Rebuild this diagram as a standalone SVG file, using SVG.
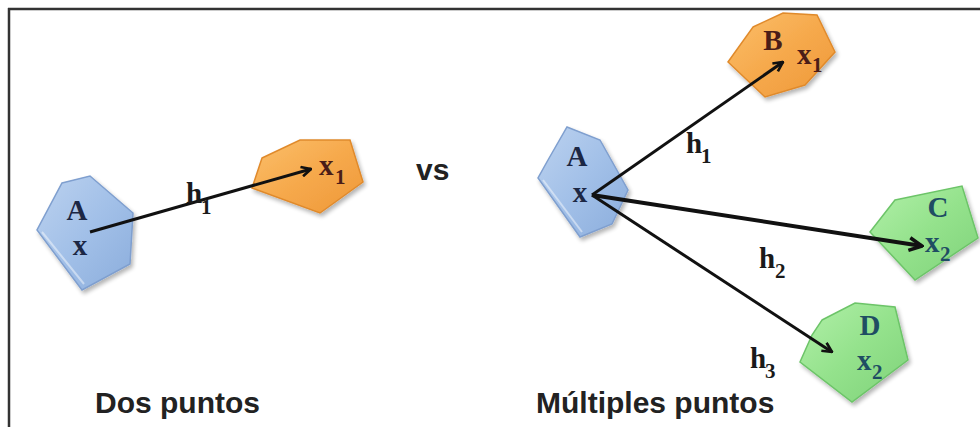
<svg xmlns="http://www.w3.org/2000/svg" width="980" height="427" viewBox="0 0 980 427">
<defs>
<linearGradient id="gBlue" x1="0" y1="0" x2="1" y2="1">
<stop offset="0" stop-color="#bcd2ef"/><stop offset="0.5" stop-color="#a2c0e8"/><stop offset="1" stop-color="#8badDC"/>
</linearGradient>
<linearGradient id="gOrange" x1="0" y1="0" x2="1" y2="1">
<stop offset="0" stop-color="#fbbf6a"/><stop offset="0.5" stop-color="#f6a94c"/><stop offset="1" stop-color="#ee9838"/>
</linearGradient>
<linearGradient id="gGreen" x1="0" y1="0" x2="1" y2="1">
<stop offset="0" stop-color="#b2f0a9"/><stop offset="0.5" stop-color="#94e28c"/><stop offset="1" stop-color="#7fd27a"/>
</linearGradient>
<filter id="sh" x="-20%" y="-20%" width="140%" height="140%">
<feGaussianBlur in="SourceAlpha" stdDeviation="2"/>
<feOffset dx="2" dy="3" result="b"/>
<feComponentTransfer><feFuncA type="linear" slope="0.3"/></feComponentTransfer>
<feMerge><feMergeNode/><feMergeNode in="SourceGraphic"/></feMerge>
</filter>
<marker id="ah" viewBox="0 0 10 10" refX="9" refY="5" markerWidth="4" markerHeight="4" orient="auto" markerUnits="strokeWidth">
<path d="M1,1 L9,5 L1,9" fill="none" stroke="#111" stroke-width="2.2" stroke-linejoin="miter"/>
</marker>
</defs>
<style>
.blue{fill:url(#gBlue);stroke:#7f9fcf;stroke-width:1.5;filter:url(#sh)}
.orange{fill:url(#gOrange);stroke:#e08a2c;stroke-width:1.5;filter:url(#sh)}
.green{fill:url(#gGreen);stroke:#6cc468;stroke-width:1.5;filter:url(#sh)}
.inner{fill:none;stroke:#ffffff;stroke-opacity:0.45;stroke-width:2}
.lbl{font-family:"Liberation Serif","DejaVu Serif",serif;font-weight:bold;font-size:29px}
.sub{font-family:"Liberation Serif","DejaVu Serif",serif;font-weight:bold;font-size:21px}
.navy{fill:#1c2744}
.brown{fill:#4a1d18}
.teal{fill:#1f4d63}
.dark{fill:#1a1a1a}
.cap{font-family:"Liberation Sans",Arial,sans-serif;font-weight:bold;font-size:30px;fill:#222}
.arr{stroke:#111;stroke-width:3;fill:none;marker-end:url(#ah)}
</style>
<rect width="980" height="427" fill="#ffffff"/>
<g id="frame" stroke="#333" stroke-width="2.5" fill="none">
<line x1="8" y1="9" x2="980" y2="9"/>
<line x1="9" y1="8" x2="9" y2="427"/>
</g>

<g id="nodeA1">
<polygon class="blue" points="62,183 90,176 133,213 130,264 82,290 37,230"/>
<polyline class="inner" points="42,232 84,284"/>
<text class="lbl navy" x="77" y="220" text-anchor="middle">A</text>
<text class="lbl navy" x="80" y="255" text-anchor="middle">x</text>
</g>
<g id="nodeX1">
<polygon class="orange" points="262,158 300,140 350,140 363,182 320,213 252,188"/>
<text class="lbl brown" x="319" y="175">x</text>
<text class="sub brown" x="335" y="184">1</text>
</g>

<g id="nodeA2">
<polygon class="blue" points="567,127 600,140 628,190 612,224 580,237 538,178 548,160"/>
<polyline class="inner" points="543,180 582,232"/>
<text class="lbl navy" x="577" y="166" text-anchor="middle">A</text>
<text class="lbl navy" x="580" y="202" text-anchor="middle">x</text>
</g>
<g id="nodeB">
<polygon class="orange" points="753,27 783,13 817,15 835,52 805,85 765,97 728,62"/>
<text class="lbl brown" x="773" y="50" text-anchor="middle">B</text>
<text class="lbl brown" x="797" y="64">x</text>
<text class="sub brown" x="812" y="72">1</text>
</g>
<g id="nodeC">
<polygon class="green" points="895,200 962,186 978,238 915,280 870,232"/>
<text class="lbl teal" x="938" y="217" text-anchor="middle">C</text>
<text class="lbl teal" x="925" y="252">x</text>
<text class="sub teal" x="940" y="261">2</text>
</g>
<g id="nodeD">
<polygon class="green" points="822,320 855,303 895,307 908,360 852,402 800,362 812,335"/>
<text class="lbl teal" x="870" y="335" text-anchor="middle">D</text>
<text class="lbl teal" x="857" y="370">x</text>
<text class="sub teal" x="872" y="379">2</text>
</g>

<g id="connectors">
<line class="arr" x1="90" y1="232" x2="311" y2="169"/>
<line class="arr" x1="592" y1="195" x2="783" y2="62"/>
<line class="arr" x1="592" y1="195" x2="922" y2="246" style="stroke-width:4"/>
<line class="arr" x1="592" y1="195" x2="832" y2="352"/>
</g>

<g id="labels">
<text class="lbl dark" x="186" y="203">h</text>
<text class="sub dark" x="201" y="214">1</text>
<text class="lbl dark" x="686" y="153">h</text>
<text class="sub dark" x="701" y="163">1</text>
<text class="lbl dark" x="759" y="268">h</text>
<text class="sub dark" x="775" y="278">2</text>
<text class="lbl dark" x="750" y="368">h</text>
<text class="sub dark" x="765" y="378">3</text>
<text class="cap" x="416" y="180" font-size="31">vs</text>
<text class="cap" x="95" y="413">Dos puntos</text>
<text class="cap" x="536" y="413">Múltiples puntos</text>
</g>
</svg>
